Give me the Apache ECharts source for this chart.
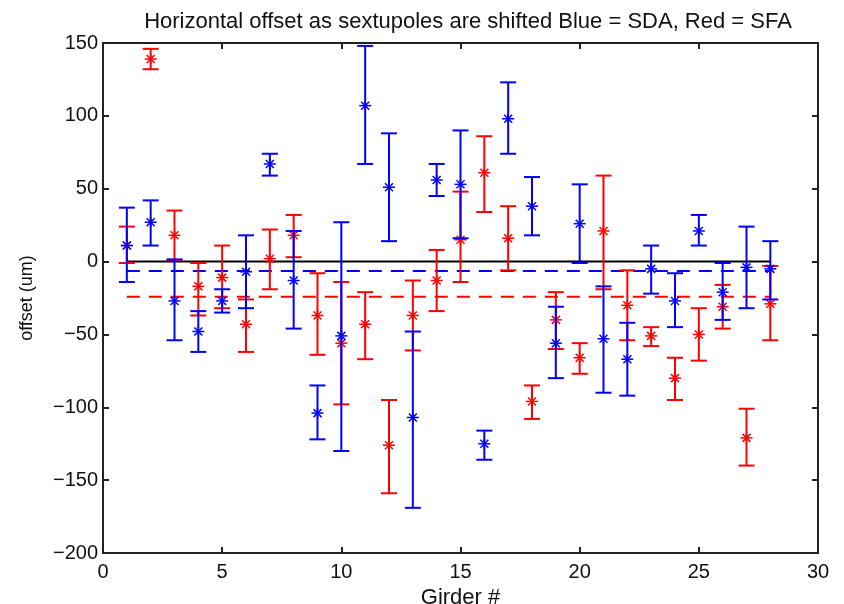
<!DOCTYPE html>
<html lang="en">

<head>
    <meta charset="UTF-8">
    <title>Horizontal offset</title>
    <style>
        body {
            margin: 0;
        }

        .box {
            width: 844px;
            height: 604px;
        }
    </style>
</head>

<body>
    <div class="box"></div>

    <script src="https://cdn.jsdelivr.net/npm/echarts@6/dist/echarts.min.js"></script>
    <script>
        // girder numbers
        let girders = [1, 2, 3, 4, 5, 6, 7, 8, 9, 10, 11, 12, 13, 14, 15, 16, 17, 18, 19, 20, 21, 22, 23, 24, 25, 26, 27, 28]

        // Blue = SDA
        let blueMean = [11, 27, -27, -48, -27, -7, 67, -13, -104, -51, 107, 51, -107, 56, 53, -125, 98, 38, -56, 26, -53, -67, -5, -27, 21, -21, -4, -5]
        let blueLow = [-14, 11, -54, -62, -35, -32, 59, -46, -122, -130, 67, 14, -169, 45, 16, -136, 74, 18, -80, -1, -90, -92, -22, -45, 11, -40, -32, -26]
        let blueHigh = [37, 42, 1.5, -34, -19, 18, 74, 21, -85, 27, 148, 88, -48, 67, 90, -116, 123, 58, -31, 53, -17, -42, 11, -8, 32, -1, 24, 14]

        // Red = SFA
        let redMean = [11, 139, 18, -17, -11, -43, 2, 18, -37, -56, -43, -126, -37, -13, 15, 61, 16, -96, -40, -66, 21, -30, -51, -80, -50, -31, -121, -29]
        let redLow = [-1, 132, 1, -37, -32, -62, -19, 3, -64, -98, -67, -159, -61, -34, -14, 34, -6, -108, -60, -77, -19, -54, -58, -95, -68, -46, -140, -54]
        let redHigh = [24, 146, 35, -1, 11, -26, 22, 32, -8, -14, -21, -95, -13, 8, 48, 86, 38, -85, -21, -56, 59, -6, -45, -66, -32, -16, -101, -3]

        // mean levels (dashed lines)
        let blueAvg = -6.4
        let redAvg = -24.1

        let font = "'Liberation Sans', Arial, sans-serif"

        function rows(mean, low, high) {
            return girders.map((g, i) => [g, mean[i], low[i], high[i]])
        }

        // error bar + asterisk marker
        function errorBar(color) {
            return function (params, api) {
                let p = api.coord([api.value(0), api.value(1)])
                let lo = api.coord([api.value(0), api.value(2)])
                let hi = api.coord([api.value(0), api.value(3)])
                let st = { stroke: color, lineWidth: 2 }
                let mk = { stroke: color, lineWidth: 1.5 }
                let w = 8
                return {
                    type: 'group',
                    children: [
                        { type: 'line', shape: { x1: p[0], y1: lo[1], x2: p[0], y2: hi[1] }, style: st },
                        { type: 'line', shape: { x1: p[0] - w, y1: lo[1], x2: p[0] + w, y2: lo[1] }, style: st },
                        { type: 'line', shape: { x1: p[0] - w, y1: hi[1], x2: p[0] + w, y2: hi[1] }, style: st },
                        { type: 'line', shape: { x1: p[0] - 6, y1: p[1], x2: p[0] + 6, y2: p[1] }, style: mk },
                        { type: 'line', shape: { x1: p[0], y1: p[1] - 5, x2: p[0], y2: p[1] + 5 }, style: mk },
                        { type: 'line', shape: { x1: p[0] - 4, y1: p[1] - 4, x2: p[0] + 4, y2: p[1] + 4 }, style: mk },
                        { type: 'line', shape: { x1: p[0] - 4, y1: p[1] + 4, x2: p[0] + 4, y2: p[1] - 4 }, style: mk }
                    ]
                }
            }
        }

        // tick labels use a real minus sign
        function minus(v) {
            return String(v).replace('-', '\u2212')
        }

        let myChart = echarts.init(document.querySelector(".box"))

        let axisCommon = {
            axisLine: { onZero: false, lineStyle: { color: '#222', width: 2 } },
            axisTick: { inside: true, length: 6, lineStyle: { color: '#222', width: 2 } },
            splitLine: { show: false }
        }

        option = {
            animation: false,
            title: {
                text: "Horizontal offset as sextupoles are shifted Blue = SDA, Red = SFA",
                left: 463,
                textAlign: 'center',
                top: 6,
                textStyle: { fontFamily: font, fontWeight: 'normal', fontSize: 22, color: '#111' }
            },
            grid: {
                left: 103,
                right: 26,
                top: 43,
                bottom: 51,
                containLabel: false,
                outerBoundsMode: 'none'
            },
            xAxis: [{
                type: "value",
                min: 0,
                max: 30,
                interval: 5,
                name: "Girder #",
                nameLocation: 'middle',
                nameGap: 27,
                nameTextStyle: { fontFamily: font, fontSize: 22, color: '#111' },
                axisLabel: { fontFamily: font, fontSize: 20, color: '#111', margin: 9 },
                ...axisCommon
            }, {
                type: "value",
                position: 'top',
                min: 0,
                max: 30,
                interval: 5,
                axisLabel: { show: false },
                ...axisCommon
            }],
            yAxis: [{
                type: "value",
                min: -200,
                max: 150,
                interval: 50,
                name: "offset (um)",
                nameLocation: 'middle',
                nameGap: 67,
                nameTextStyle: { fontFamily: font, fontSize: 18, color: '#111' },
                axisLabel: { fontFamily: font, fontSize: 20, color: '#111', margin: 5, formatter: minus },
                ...axisCommon
            }, {
                type: "value",
                position: 'right',
                min: -200,
                max: 150,
                interval: 50,
                axisLabel: { show: false },
                ...axisCommon
            }],
            series: [{
                name: "zero",
                type: "line",
                data: [[1, 0], [28, 0]],
                symbol: 'none',
                lineStyle: { color: '#000', width: 2 },
                z: 1
            }, {
                name: "Red mean",
                type: "line",
                data: [[1, redAvg], [28, redAvg]],
                symbol: 'none',
                lineStyle: { color: '#ff0000', width: 2, type: [13, 9] },
                z: 2
            }, {
                name: "Blue mean",
                type: "line",
                data: [[1, blueAvg], [28, blueAvg]],
                symbol: 'none',
                lineStyle: { color: '#0000ff', width: 2, type: [13, 9] },
                z: 2
            }, {
                name: "SFA",
                type: "custom",
                renderItem: errorBar('#ff0000'),
                encode: { x: 0, y: [1, 2, 3] },
                data: rows(redMean, redLow, redHigh),
                z: 3
            }, {
                name: "SDA",
                type: "custom",
                renderItem: errorBar('#0000ff'),
                encode: { x: 0, y: [1, 2, 3] },
                data: rows(blueMean, blueLow, blueHigh),
                z: 4
            }]
        }
        myChart.setOption(option)
    </script>
</body>

</html>
